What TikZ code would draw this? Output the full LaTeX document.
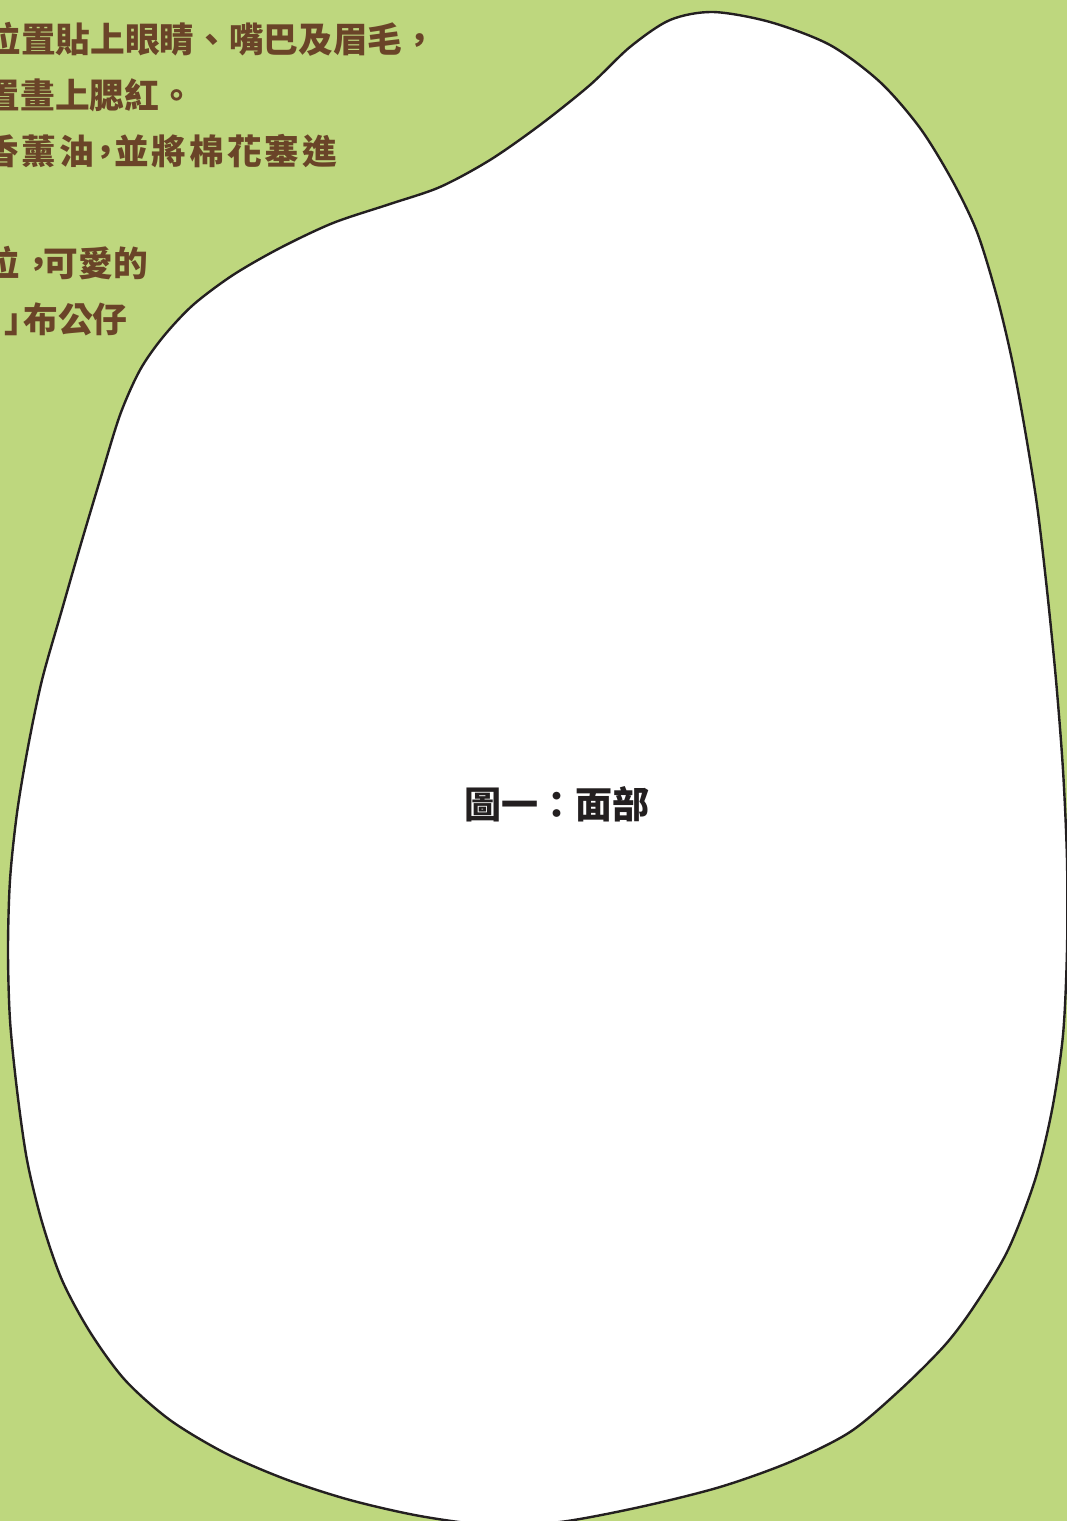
\documentclass[tikz,border=0pt]{standalone}
\usepackage{fontspec}
\usepackage{tikz}
\newfontfamily\cjk{Noto Sans CJK TC}
\definecolor{leafgreen}{HTML}{BED77E}
\definecolor{notebrown}{HTML}{6A4428}
\definecolor{inkgray}{HTML}{231F20}
% comma with its own spacing before and after
\newcommand\spacedcomma[2]{\kern-#1em，\kern-#2em}

\begin{document}
\begin{tikzpicture}[
    x=0.75pt, y=-0.75pt,
    every node/.style={inner sep=0pt, outer sep=0pt},
    note/.style={anchor=base west, text=notebrown, font=\cjk\bfseries\fontsize{26pt}{30pt}\selectfont},
    caption/.style={anchor=base, text=inkgray, font=\cjk\bfseries\fontsize{27.75pt}{32pt}\selectfont},
    outline/.style={draw=inkgray, line width=1.8pt, fill=white}
]

% Page
\useasboundingbox (0,0) rectangle (1067,1521);
\fill[leafgreen] (0,0) rectangle (1067,1521);

% Notes
\node[note] (stepeyes) at (-13.5,52) {位置貼上眼睛、嘴巴及眉毛，};
\node[note] (stepcheek) at (-14,108) {置畫上腮紅。};
\node[note] (stepoil) at (-15.8,164)
    {\addfontfeatures{LetterSpace=8.6}香薰油\spacedcomma{.15}{.27}並將棉花塞進};
\node[note] (stepdone) at (-14.7,276) {位\kern.05em，\kern-.36em 可愛的};
\node[note] (stepdoll) at (4,332) {」\kern-.44em 布公仔};

% Face outline
\draw[outline] plot[smooth cycle, tension=0.5] coordinates {
    (713,12) (770,22) (830,45) (880,82) (920,128) (952,180)
    (977,232) (997,297) (1012,360) (1025,430) (1037,505)
    (1047,590) (1056,680) (1063,770) (1067,860) (1067,950)
    (1063,1035) (1052,1110) (1035,1180) (1008,1250) (975,1305)
    (945,1345) (900,1390) (850,1432) (790,1462) (720,1487)
    (640,1507) (560,1522) (490,1525) (420,1516) (350,1500)
    (285,1479) (225,1453) (170,1420) (125,1380) (90,1332)
    (62,1280) (42,1222) (27,1160) (17,1090) (10,1020) (8,950)
    (10,880) (17,813) (28,747) (42,680) (61,613) (80,547)
    (100,480) (120,415) (140,370) (163,337) (193,305) (233,275)
    (280,248) (333,223) (390,204) (440,187) (490,160) (540,125)
    (590,85) (630,47) (670,20)};

\node[caption] (facecap) at (556.5,818) {圖一：面部};

\end{tikzpicture}
\end{document}
